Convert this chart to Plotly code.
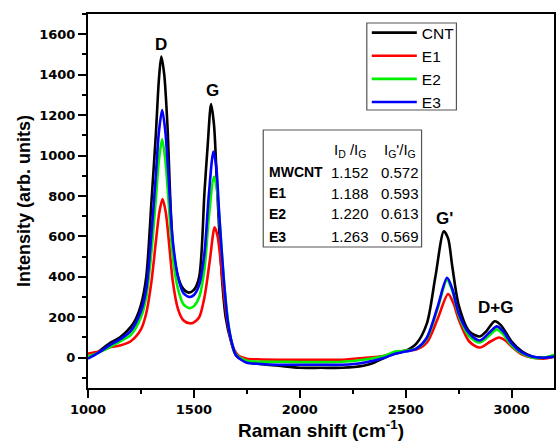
import plotly.graph_objects as go

# ---- data ----
cnt_x = [1000,1050,1100,1150,1200,1225,1250,1275,1300,1320,1335,1346,1360,1375,1400,1425,1450,1475,1500,1525,1550,1565,1581,1595,1610,1632,1650,1675,1700,1750,1800,1900,2000,2100,2200,2300,2350,2400,2450,2500,2550,2600,2640,2680,2700,2720,2750,2800,2850,2880,2920,2950,3000,3050,3100,3150,3200]
cnt_y = [0,30,70,100,150,190,260,400,780,1100,1380,1490,1400,1150,560,400,340,322,335,400,820,1050,1255,1150,830,400,200,80,10,-20,-30,-40,-50,-50,-50,-40,-25,0,20,35,70,170,400,625,590,450,260,130,105,130,180,160,80,30,5,0,5]

e1_x = [1000,1050,1100,1150,1200,1250,1275,1300,1320,1337,1352,1367,1385,1400,1425,1450,1480,1500,1525,1550,1575,1598,1612,1630,1650,1670,1690,1710,1750,1800,1900,2000,2100,2200,2300,2400,2450,2500,2550,2600,2650,2700,2725,2750,2800,2850,2900,2940,2970,3000,3050,3100,3150,3200]
e1_y = [20,30,50,60,80,140,220,380,570,720,785,720,540,380,240,185,170,175,200,300,480,645,600,440,240,110,40,10,-5,-8,-10,-10,-10,-10,-2,10,25,35,40,75,190,315,270,190,80,50,80,100,85,55,15,0,-5,5]

e2_x = [1000,1050,1100,1150,1200,1250,1275,1300,1320,1335,1350,1365,1380,1400,1425,1450,1480,1500,1525,1550,1570,1595,1610,1625,1645,1665,1685,1700,1750,1800,1900,2000,2100,2200,2300,2400,2450,2500,2550,2600,2650,2695,2720,2750,2800,2850,2900,2930,2960,3000,3050,3100,3150,3200]
e2_y = [5,25,50,80,110,200,300,530,780,980,1080,980,780,500,340,265,245,255,300,440,690,895,820,620,340,150,50,15,-15,-20,-20,-22,-22,-20,-10,10,30,35,45,95,240,385,330,210,105,75,115,140,115,60,20,0,0,15]

e3_x = [1000,1050,1100,1150,1200,1250,1275,1300,1320,1335,1350,1365,1380,1400,1425,1450,1480,1500,1525,1550,1570,1592,1605,1620,1640,1660,1680,1700,1750,1800,1900,2000,2100,2200,2300,2400,2450,2500,2550,2600,2650,2695,2720,2750,2800,2850,2900,2930,2960,3000,3050,3100,3150,3200]
e3_y = [-5,25,60,90,130,230,340,620,900,1120,1225,1120,900,580,400,320,300,310,360,520,800,1020,950,700,400,180,70,10,-25,-30,-35,-35,-35,-35,-25,0,20,30,45,100,250,395,340,220,120,85,130,155,130,70,25,5,0,5]

series_names = ["CNT", "E1", "E2", "E3"]
series_colors = ["#000000", "#ff0000", "#00f000", "#0000ff"]
series_x = [cnt_x, e1_x, e2_x, e3_x]
series_y = [cnt_y, e1_y, e2_y, e3_y]

peak_labels = ["D", "G", "G'", "D+G"]
peak_x = [1346, 1590, 2684, 2923]
peak_y = [1550, 1320, 690, 246]

table_samples = ["MWCNT", "E1", "E2", "E3"]
table_id_ig = ["1.152", "1.188", "1.220", "1.263"]
table_ig2_ig = ["0.572", "0.593", "0.613", "0.569"]

x_ticks = [1000, 1500, 2000, 2500, 3000]
y_ticks = [0, 200, 400, 600, 800, 1000, 1200, 1400, 1600]

FONT = "Arial, Liberation Sans, sans-serif"
TICKFONT = "DejaVu Sans, sans-serif"

fig = go.Figure()
for name, col, xs, ys in zip(series_names, series_colors, series_x, series_y):
    fig.add_trace(go.Scatter(x=xs, y=ys, mode="lines", name=name,
                             line=dict(color=col, width=2.6, shape="spline", smoothing=0.8)))

W, H = 557, 444
L, R, T, B = 88, 1, 14, 56
pw, ph = W - L - R, H - T - B

def px(xp):
    return (xp - L) / pw

def py(yp):
    return (H - B - yp) / ph

ann = []
for lab, xv, yv in zip(peak_labels, peak_x, peak_y):
    ann.append(dict(x=xv, y=yv, xref="x", yref="y", text=lab, showarrow=False,
                    xanchor="center", yanchor="middle",
                    font=dict(family=FONT, size=17, color="black", weight="bold")))

# table
col1_x, col2_x, lab_x = 351, 401, 268
ann.append(dict(x=px(col1_x), y=py(150), xref="paper", yref="paper", showarrow=False,
                xanchor="center", yanchor="middle",
                text="I<sub>D</sub> /I<sub>G</sub>", font=dict(family=FONT, size=15, color="black")))
ann.append(dict(x=px(col2_x), y=py(150), xref="paper", yref="paper", showarrow=False,
                xanchor="center", yanchor="middle",
                text="I<sub>G</sub>'/I<sub>G</sub>", font=dict(family=FONT, size=15, color="black")))
row_y = [172, 193, 214, 237]
for s, a, b, ry in zip(table_samples, table_id_ig, table_ig2_ig, row_y):
    ann.append(dict(x=px(lab_x), y=py(ry), xref="paper", yref="paper", showarrow=False,
                    xanchor="left", yanchor="middle",
                    text=s, font=dict(family=FONT, size=14, color="black", weight="bold")))
    ann.append(dict(x=px(col1_x), y=py(ry), xref="paper", yref="paper", showarrow=False,
                    xanchor="center", yanchor="middle",
                    text=a, font=dict(family=FONT, size=15, color="black")))
    ann.append(dict(x=px(col2_x), y=py(ry), xref="paper", yref="paper", showarrow=False,
                    xanchor="center", yanchor="middle",
                    text=b, font=dict(family=FONT, size=15, color="black")))

shapes = [
    dict(type="rect", xref="paper", yref="paper", x0=px(264), x1=px(423), y0=py(247), y1=py(130),
         line=dict(color="#555555", width=1.2), fillcolor="rgba(0,0,0,0)"),
    # legend frame
    dict(type="rect", xref="paper", yref="paper", x0=px(368), x1=px(458), y0=py(110), y1=py(23),
         line=dict(color="#555555", width=1.2), fillcolor="white", layer="above"),
]

axis_common = dict(showline=True, linewidth=2, linecolor="black", mirror=True, ticks="outside",
                   ticklen=8, tickwidth=2, tickcolor="black", showgrid=False, zeroline=False,
                   tickfont=dict(family=TICKFONT, size=13, color="black", weight="bold"))

fig.update_layout(
    width=W, height=H, margin=dict(l=L, r=R, t=T, b=B),
    paper_bgcolor="white", plot_bgcolor="white",
    xaxis=dict(range=[1000, 3200], tickvals=x_ticks,
               minor=dict(dtick=250, ticks="outside", ticklen=4, tickwidth=2, tickcolor="black"),
               title=dict(text="Raman shift (cm<sup>-1</sup>)", standoff=4,
                          font=dict(family=FONT, size=19, color="black", weight="bold")),
               **axis_common),
    yaxis=dict(range=[-150, 1700], tickvals=y_ticks,
               minor=dict(dtick=100, ticks="outside", ticklen=4, tickwidth=2, tickcolor="black"),
               title=dict(text="Intensity (arb. units)", standoff=4,
                          font=dict(family=FONT, size=18, color="black", weight="bold")),
               **axis_common),
    legend=dict(x=px(368), y=py(16), xanchor="left", yanchor="top", bgcolor="rgba(0,0,0,0)",
                borderwidth=0, tracegroupgap=0, itemwidth=45,
                font=dict(family=FONT, size=15.5, color="black")),
    showlegend=True,
    annotations=ann, shapes=shapes,
)

fig.write_html("out.html")
